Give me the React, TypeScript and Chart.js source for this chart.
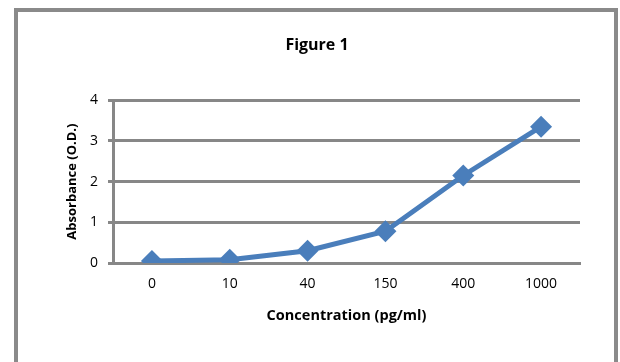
import React, { useEffect, useRef } from "react";
import { Chart, registerables } from "chart.js";

Chart.register(...registerables);

const categories = ["0", "10", "40", "150", "400", "1000"];
const absorbance = [0.05, 0.08, 0.3, 0.78, 2.15, 3.35];
const yTicks = [0, 1, 2, 3, 4];

const FONT = "'Open Sans', Lato, sans-serif";
const GRID = "#878787";
const BLUE = "#4A7EBB";

const frame = {
  id: "frame",
  beforeDraw(chart: any) {
    const { ctx } = chart;
    ctx.save();
    ctx.fillStyle = "#ffffff";
    ctx.fillRect(0, 0, chart.width, chart.height);
    ctx.strokeStyle = "#8a8a8a";
    ctx.lineWidth = 4;
    ctx.strokeRect(16, 10, 600, 400);
    ctx.restore();
  },
};

export default function App() {
  const ref = useRef<HTMLCanvasElement | null>(null);
  useEffect(() => {
    document.body.style.margin = "0";
    const chart = new Chart(ref.current!, {
      type: "line",
      data: {
        labels: categories,
        datasets: [
          {
            data: absorbance,
            borderColor: BLUE,
            backgroundColor: BLUE,
            borderWidth: 5,
            pointStyle: "rectRot",
            pointRadius: 11,
            pointHoverRadius: 11,
            pointBorderWidth: 0,
            tension: 0,
          },
        ],
      },
      options: {
        animation: false,
        responsive: false,
        layout: { padding: { left: 54, right: 40, top: 0, bottom: 0 } },
        plugins: {
          legend: { display: false },
          tooltip: { enabled: false },
          title: {
            display: true,
            text: "Figure 1",
            color: "#000",
            font: { family: FONT, size: 16, weight: "bold" },
            padding: { top: 36, bottom: 45 },
          },
        },
        scales: {
          x: {
            offset: true,
            grid: { display: false, drawTicks: false },
            border: { display: true, color: GRID, width: 3 },
            ticks: {
              color: "#000",
              padding: 13,
              font: { family: FONT, size: 14 },
            },
            title: {
              display: true,
              text: "Concentration (pg/ml)",
              color: "#000",
              font: { family: FONT, size: 14.5, weight: "bold" },
              padding: { top: 0, bottom: 37 },
            },
            afterFit(scale: any) {
              scale.height = 99;
            },
          },
          y: {
            min: 0,
            max: 4,
            afterBuildTicks(scale: any) {
              scale.ticks = yTicks.map((v) => ({ value: v }));
            },
            grid: { color: GRID, lineWidth: 3, tickLength: 5, drawTicks: true },
            border: { display: true, color: GRID, width: 3 },
            ticks: {
              color: "#000",
              padding: 10,
              font: { family: FONT, size: 14 },
            },
            title: {
              display: true,
              text: "Absorbance (O.D.)",
              color: "#000",
              font: { family: FONT, size: 13, weight: "bold" },
              padding: { top: 10, bottom: 0 },
            },
            afterFit(scale: any) {
              scale.width = 59;
            },
          },
        },
      },
      plugins: [frame],
    });
    return () => chart.destroy();
  }, []);
  return (
    <div style={{ width: 620, height: 362, position: "relative" }}>
      <canvas ref={ref} width={620} height={362} style={{ display: "block" }} />
    </div>
  );
}
